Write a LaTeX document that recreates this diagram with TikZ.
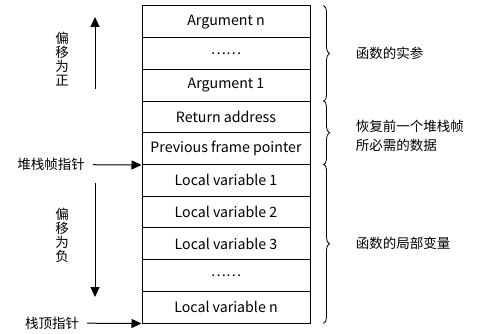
\documentclass[tikz,border=0pt]{standalone}
\usepackage{fontspec}
\setmainfont{Noto Sans CJK SC}
\usetikzlibrary{arrows.meta,decorations.pathreplacing}
\tikzset{
  cell/.style={draw,line width=1pt,minimum width=168pt,minimum height=31.7pt,inner sep=0pt,font=\fontsize{14.2}{16}\selectfont},
  ptr/.style={-{Triangle[length=10pt,width=9pt]},line width=1pt},
  lbl/.style={font=\fontsize{13.5}{14}\selectfont,inner sep=0pt},
  brc/.style={decorate,decoration={brace,amplitude=6pt},line width=0.8pt}
}
\begin{document}
\begin{tikzpicture}[x=1pt,y=-1pt]
\useasboundingbox (0,0) rectangle (484,334);
% stack cells
\node[cell] (an) at (226,21.85) {Argument n};
\node[cell] (ad) at (226,53.55) {\dots\dots};
\node[cell] (a1) at (226,85.25) {Argument 1};
\node[cell] (ra) at (226,116.95) {Return address};
\node[cell] (pf) at (226,148.65) {Previous frame pointer};
\node[cell] (l1) at (226,180.35) {Local variable 1};
\node[cell] (l2) at (226,212.05) {Local variable 2};
\node[cell] (l3) at (226,243.75) {Local variable 3};
\node[cell] (ld) at (226,275.45) {\dots\dots};
\node[cell] (ln) at (226,307.15) {Local variable n};
% offsets
\coordinate (up0) at (95,89);
\coordinate (up1) at (95,17);
\coordinate (dn0) at (95,183);
\coordinate (dn1) at (95,297);
\draw[ptr] (up0) -- (up1);
\draw[ptr] (dn0) -- (dn1);
\node[lbl,align=center] (pos) at (62,59) {偏\\移\\为\\正};
\node[lbl,align=center] (neg) at (62,235) {偏\\移\\为\\负};
% pointers
\node[lbl] (fp) at (51,164.5) {堆栈帧指针};
\node[lbl] (sp) at (52,323) {栈顶指针};
\draw[ptr,shorten <=8pt] (fp) -- (pf.south west);
\draw[ptr,shorten <=8pt] (sp) -- (ln.south west);
% braces
\draw[brc] ([xshift=13pt]an.north east) -- ([xshift=13pt]a1.south east) node[midway,right=32pt,lbl] (args) {函数的实参};
\draw[brc] ([xshift=13pt]ra.north east) -- ([xshift=13pt]pf.south east) node[midway,right=32pt,yshift=-3pt,lbl,align=left,font=\fontsize{13.5}{19}\selectfont] (save) {恢复前一个堆栈帧\\所必需的数据};
\draw[brc] ([xshift=13pt]l1.north east) -- ([xshift=13pt]ln.south east) node[midway,right=32pt,lbl] (locs) {函数的局部变量};
\end{tikzpicture}
\end{document}
